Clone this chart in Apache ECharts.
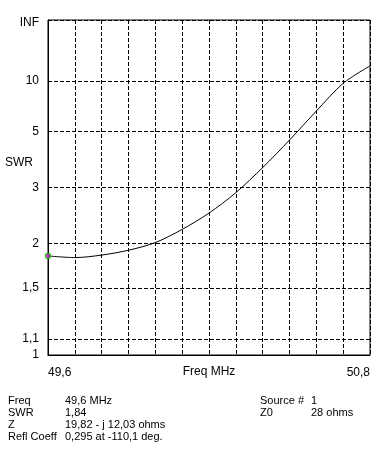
<!DOCTYPE html>
<html>
<head>
<meta charset="utf-8">
<script src="https://cdn.jsdelivr.net/npm/echarts@6/dist/echarts.min.js"></script>
<style>
html,body{margin:0;padding:0;background:#fff;}
#c{width:391px;height:458px;}
</style>
</head>
<body>
<div id="c"></div>
<script>
// Frequency (MHz) and SWR
var freqs = [49.6, 49.7, 49.8, 49.9, 50.0, 50.1, 50.2, 50.3, 50.4, 50.5, 50.6, 50.7, 50.8];
var swrValues = [1.84, 1.82, 1.85, 1.91, 2.01, 2.20, 2.47, 2.88, 3.54, 4.58, 6.36, 9.58, 13.6];
// Y tick values (SWR) and labels
var swrTicks = [1, 1.1, 1.5, 2, 3, 5, 10, Infinity];
var swrTickLabels = ['1', '1,1', '1,5', '2', '3', '5', '10', 'INF'];
// X tick labels
var xLabelValues = [49.6, 50.8];
// Marker
var markerFreq = [49.6];
var markerSWR = [1.84];
// Info block
var infoLeftKeys = ['Freq', 'SWR', 'Z', 'Refl Coeff'];
var infoLeftVals = ['49,6 MHz', '1,84', '19,82 - j 12,03 ohms', '0,295 at -110,1 deg.'];
var infoRightKeys = ['Source #', 'Z0'];
var infoRightVals = ['1', '28 ohms'];

function rho(s) { return s === Infinity ? 1 : (s - 1) / (s + 1); }
var rhoTicks = swrTicks.map(rho);

var FONT = '"Liberation Sans", Arial, sans-serif';
var chart = echarts.init(document.getElementById('c'), null, {renderer: 'canvas'});

var lineData = freqs.map(function (f, i) { return [f, rho(swrValues[i])]; });
var markData = markerFreq.map(function (f, i) { return [f, rho(markerSWR[i])]; });

var graphics = [];
graphics.push({type: 'text', left: 5, top: 157, style: {text: 'SWR', font: '12px ' + FONT, fill: '#000'}});
graphics.push({type: 'text', x: 209, y: 372, style: {text: 'Freq MHz', font: '12px ' + FONT, fill: '#000', align: 'center', verticalAlign: 'middle'}});
var rowY = [395, 407, 419, 431];
infoLeftKeys.forEach(function (k, i) {
  graphics.push({type: 'text', left: 8, top: rowY[i], style: {text: k, font: '11px ' + FONT, fill: '#000'}});
  graphics.push({type: 'text', left: 65, top: rowY[i], style: {text: infoLeftVals[i], font: '11px ' + FONT, fill: '#000'}});
});
infoRightKeys.forEach(function (k, i) {
  graphics.push({type: 'text', left: 260, top: rowY[i], style: {text: k, font: '11px ' + FONT, fill: '#000'}});
  graphics.push({type: 'text', left: 311, top: rowY[i], style: {text: infoRightVals[i], font: '11px ' + FONT, fill: '#000'}});
});

chart.setOption({
  animation: false,
  backgroundColor: '#fff',
  textStyle: {fontFamily: FONT},
  grid: {left: 48, top: 20, width: 322, height: 335, show: true, borderColor: '#000', borderWidth: 1, backgroundColor: 'transparent', containLabel: false},
  xAxis: {
    type: 'value', min: 49.6, max: 50.8, interval: 0.1,
    axisLine: {show: true, lineStyle: {color: '#000', width: 1}},
    axisTick: {show: false},
    axisLabel: {
      customValues: xLabelValues, color: '#000', fontSize: 12, fontFamily: FONT, margin: 12,
      alignMinLabel: 'left', alignMaxLabel: 'right',
      formatter: function (v) { return v.toFixed(1).replace('.', ','); }
    },
    splitLine: {show: true, lineStyle: {color: '#000', type: [4, 2], width: 1}}
  },
  yAxis: {
    type: 'value', min: 0, max: 1,
    axisLine: {show: true, lineStyle: {color: '#000', width: 1}},
    axisTick: {show: false, customValues: rhoTicks},
    axisLabel: {
      customValues: rhoTicks, color: '#000', fontSize: 12, fontFamily: FONT, margin: 9,
      rich: {inf: {fontSize: 12, fontFamily: FONT, color: '#000', padding: [6, 0, 0, 0]}},
      formatter: function (v) {
        for (var i = 0; i < rhoTicks.length; i++) {
          if (Math.abs(rhoTicks[i] - v) < 1e-6) {
            return swrTickLabels[i] === 'INF' ? '{inf|INF}' : swrTickLabels[i];
          }
        }
        return '';
      }
    },
    splitLine: {show: true, lineStyle: {color: '#000', type: [4, 2], width: 1}}
  },
  series: [
    {type: 'line', data: lineData, smooth: 0.3, symbol: 'none', lineStyle: {color: '#000', width: 1}, z: 3},
    {type: 'scatter', data: markData, symbol: 'circle', symbolSize: 5, itemStyle: {color: '#ff00ff', borderColor: '#00c000', borderWidth: 1.5}, z: 5}
  ],
  graphic: graphics
});
</script>
</body>
</html>
